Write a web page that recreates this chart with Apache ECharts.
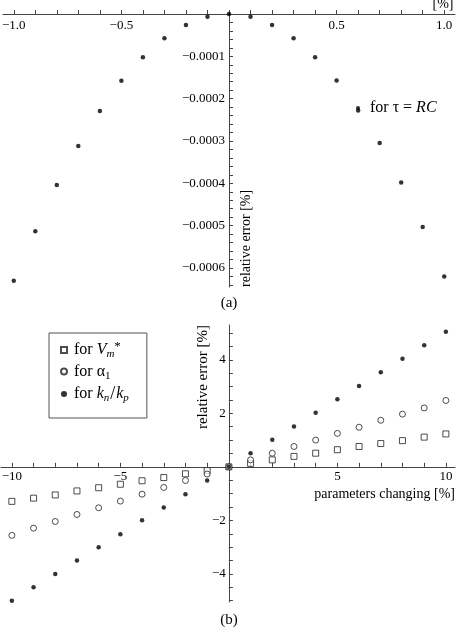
<!DOCTYPE html>
<html>
<head>
<meta charset="utf-8">
<script src="https://cdn.jsdelivr.net/npm/echarts@6/dist/echarts.min.js"></script>
<style>
  html, body { margin: 0; padding: 0; background: #fff; }
  #chart { width: 458px; height: 632px; }
</style>
</head>
<body>
<div id="chart"></div>
<script>
// (a) relative error for tau = RC
const xA = [-1.0, -0.9, -0.8, -0.7, -0.6, -0.5, -0.4, -0.3, -0.2, -0.1, 0, 0.1, 0.2, 0.3, 0.4, 0.5, 0.6, 0.7, 0.8, 0.9, 1.0]
const tauA = [-0.00063, -0.000513, -0.000404, -0.000312, -0.000229, -0.000158, -0.000102, -0.000057, -0.000026, -0.0000065, 0,
  -0.0000065, -0.000026, -0.000057, -0.000102, -0.000157, -0.000228, -0.000305, -0.000398, -0.000503, -0.00062]
const xTickLabelsA = [-1.0, -0.5, 0.5, 1.0]
const yTickLabelsA = [-0.0006, -0.0005, -0.0004, -0.0003, -0.0002, -0.0001]

// (b) relative error vs parameters changing
const xB = [-10, -9, -8, -7, -6, -5, -4, -3, -2, -1, 0, 1, 2, 3, 4, 5, 6, 7, 8, 9, 10]
const vmB = [-1.29, -1.17, -1.05, -0.9, -0.78, -0.65, -0.52, -0.4, -0.26, -0.14, 0, 0.13, 0.26, 0.39, 0.51, 0.64, 0.76, 0.87, 0.98, 1.11, 1.23]
const alphaB = [-2.56, -2.29, -2.04, -1.78, -1.53, -1.28, -1.02, -0.77, -0.51, -0.27, 0, 0.26, 0.51, 0.76, 1.0, 1.25, 1.48, 1.74, 1.97, 2.2, 2.48]
const knkpB = [-5.0, -4.5, -4.0, -3.5, -3.0, -2.52, -2.0, -1.52, -1.02, -0.51, 0, 0.51, 1.01, 1.51, 2.02, 2.53, 3.02, 3.53, 4.04, 4.54, 5.05]
const xTickLabelsB = [-10, -5, 5, 10]
const yTickLabelsB = [-4, -2, 2, 4]

const FONT = '"Liberation Serif", "DejaVu Serif", serif'
const AXIS_COLOR = '#444'

// grid boxes and ranges
const gridA = {left: 3, top: 14, width: 452, height: 273}
const gridB = {left: 1, top: 325, width: 454, height: 277}
const rangeXA = [-1.05, 1.05], rangeYA = [-0.000645, 0]
const rangeXB = [-10.5, 10.42], rangeYB = [-5.05, 5.3]

// axes cross at the origin: shift them into the grid
const zeroFrac = (r) => (0 - r[0]) / (r[1] - r[0])
const offYA = -zeroFrac(rangeXA) * gridA.width
const offXB = -zeroFrac(rangeYB) * gridB.height
const offYB = -zeroFrac(rangeXB) * gridB.width

const steps = (from, to, step, digits) => {
  const out = []
  for (let v = from; v <= to + step / 2; v += step) out.push(+v.toFixed(digits))
  return out
}
const minus = (s) => s.replace('-', '\u2212')

const valueAxis = (labels, ticks, fmt, margin, extra) => {
  const ax = {
    type: 'value',
    splitLine: {show: false},
    axisLine: {onZero: false, lineStyle: {color: AXIS_COLOR, width: 1}},
    axisTick: {show: true, inside: true, length: 4, customValues: ticks, lineStyle: {color: AXIS_COLOR, width: 1}},
    axisLabel: {customValues: labels, formatter: fmt, margin: margin, color: '#000', fontFamily: FONT, fontSize: 13},
    nameMoveOverlap: false
  }
  Object.keys(extra).forEach(k => {
    ax[k] = (typeof extra[k] === 'object' && ax[k]) ? Object.assign({}, ax[k], extra[k]) : extra[k]
  })
  return ax
}

const rich = {
  t: {fontFamily: FONT, fontSize: 16, color: '#000', lineHeight: 20},
  i: {fontFamily: FONT, fontSize: 16, fontStyle: 'italic', color: '#000', lineHeight: 20},
  sub: {fontFamily: FONT, fontSize: 11, fontStyle: 'italic', color: '#000', lineHeight: 20, verticalAlign: 'bottom'},
  subr: {fontFamily: FONT, fontSize: 11, color: '#000', lineHeight: 20, verticalAlign: 'bottom'},
  sup: {fontFamily: FONT, fontSize: 13, color: '#000', lineHeight: 20, verticalAlign: 'top'},
  sl: {fontFamily: FONT, fontSize: 18, color: '#000', lineHeight: 20, padding: [0, 1, 0, 1]}
}
const legendText = {
  'tau': '{t|for τ = }{i|RC}',
  'vm': '{t|for }{i|V}{sub|m}{sup|*}',
  'alpha': '{t|for α}{subr|1}',
  'knkp': '{t|for }{i|k}{sub|n}{sl|/}{i|k}{sub|p}'
}

const hollow = {color: '#fff', borderColor: '#222', borderWidth: 1}
const nameStyle = {color: '#000', fontFamily: FONT, fontSize: 14}

const option = {
  animation: false,
  backgroundColor: '#fff',
  title: [
    {text: '(a)', left: 'center', top: 296, padding: 0, textStyle: {fontFamily: FONT, fontSize: 15, fontWeight: 'normal', color: '#000'}},
    {text: '(b)', left: 'center', top: 613, padding: 0, textStyle: {fontFamily: FONT, fontSize: 15, fontWeight: 'normal', color: '#000'}}
  ],
  grid: [
    Object.assign({outerBoundsMode: 'none'}, gridA),
    Object.assign({outerBoundsMode: 'none'}, gridB)
  ],
  legend: [
    {
      data: ['tau'], left: 356, top: 100, padding: 0, icon: 'circle', itemWidth: 4, itemHeight: 4,
      formatter: (n) => legendText[n], textStyle: {padding: [0, 0, 0, 5], rich: rich}
    },
    {
      data: ['vm', 'alpha', 'knkp'], orient: 'vertical', left: 49, top: 333, padding: [7, 18, 14, 11], itemGap: 3.5,
      itemWidth: 6, itemHeight: 6, borderColor: '#555', borderWidth: 1, backgroundColor: '#fff',
      formatter: (n) => legendText[n], textStyle: {padding: [0, 0, 0, 2], rich: rich}
    }
  ],
  xAxis: [
    valueAxis(xTickLabelsA, steps(-1, 1, 0.1, 1), (v) => minus(v.toFixed(1)), 5, {
      gridIndex: 0, min: rangeXA[0], max: rangeXA[1], position: 'top',
      axisTick: {inside: false},
      axisLabel: {inside: true},
      name: '[%]', nameLocation: 'end', nameGap: -12,
      nameTextStyle: Object.assign({align: 'center', verticalAlign: 'bottom', padding: [0, 0, 3, 0]}, nameStyle)
    }),
    valueAxis(xTickLabelsB, steps(-10, 10, 1, 0), (v) => minus(String(v)), 3, {
      gridIndex: 1, min: rangeXB[0], max: rangeXB[1], position: 'bottom', offset: offXB,
      name: 'parameters changing [%]', nameLocation: 'end', nameGap: 0,
      nameTextStyle: Object.assign({align: 'right', verticalAlign: 'top', padding: [20, 0, 0, 0]}, nameStyle)
    })
  ],
  yAxis: [
    valueAxis(yTickLabelsA, steps(-0.00064, 0, 0.00002, 5), (v) => minus(v.toFixed(4)), 4, {
      gridIndex: 0, min: rangeYA[0], max: rangeYA[1], position: 'left', offset: offYA,
      name: 'relative error [%]', nameLocation: 'start', nameRotate: 90, nameGap: 0,
      nameTextStyle: Object.assign({align: 'left', verticalAlign: 'top', padding: [10, 0, 0, 0]}, nameStyle)
    }),
    valueAxis(yTickLabelsB, steps(-5, 5, 0.5, 1), (v) => minus(String(v)), 3, {
      gridIndex: 1, min: rangeYB[0], max: rangeYB[1], position: 'left', offset: offYB,
      name: 'relative error [%]', nameLocation: 'end', nameRotate: 90, nameGap: 0,
      nameTextStyle: Object.assign({align: 'right', verticalAlign: 'bottom', padding: [0, 0, 18, 0]}, nameStyle, {fontSize: 15})
    })
  ],
  series: [
    {
      name: 'tau', type: 'scatter', xAxisIndex: 0, yAxisIndex: 0, symbol: 'circle', symbolSize: 4.5,
      itemStyle: {color: '#000'}, emphasis: {disabled: true},
      data: xA.map((x, i) => [x, tauA[i]])
    },
    {
      name: 'vm', type: 'scatter', xAxisIndex: 1, yAxisIndex: 1, symbol: 'rect', symbolSize: 6,
      itemStyle: hollow, emphasis: {disabled: true},
      data: xB.map((x, i) => [x, vmB[i]])
    },
    {
      name: 'alpha', type: 'scatter', xAxisIndex: 1, yAxisIndex: 1, symbol: 'circle', symbolSize: 6,
      itemStyle: hollow, emphasis: {disabled: true},
      data: xB.map((x, i) => [x, alphaB[i]])
    },
    {
      name: 'knkp', type: 'scatter', xAxisIndex: 1, yAxisIndex: 1, symbol: 'circle', symbolSize: 4.5,
      itemStyle: {color: '#000'}, emphasis: {disabled: true}, z: 3,
      data: xB.map((x, i) => [x, knkpB[i]])
    }
  ]
}

const mChart = echarts.init(document.getElementById('chart'), null, {renderer: 'canvas'})
mChart.setOption(option)
</script>
</body>
</html>
